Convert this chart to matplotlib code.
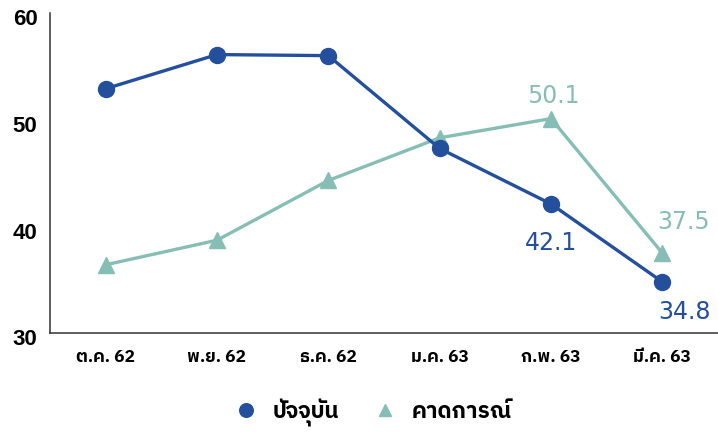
import matplotlib
matplotlib.use("Agg")
import matplotlib.pyplot as plt
import matplotlib.transforms as mtransforms
from matplotlib import font_manager
from matplotlib.ft2font import FT2Font

months = ["ต.ค. 62", "พ.ย. 62", "ธ.ค. 62", "ม.ค. 63", "ก.พ. 63", "มี.ค. 63"]
current = [52.9, 56.1, 56.0, 47.3, 42.1, 34.8]
expected = [36.4, 38.7, 44.3, 48.3, 50.1, 37.5]
series_names = ["ปัจจุบัน", "คาดการณ์"]

BLUE = "#234F9C"
TEAL = "#86BEB6"


def find_thai_family():
    # installed fonts with Thai glyphs; prefer a family that has a bold face
    fams = {}
    for f in font_manager.fontManager.ttflist:
        try:
            cmap = FT2Font(f.fname).get_charmap()
        except Exception:
            continue
        if ord("ก") in cmap and ord("ั") in cmap:
            w = f.weight if isinstance(f.weight, int) else 400
            fams.setdefault(f.name, set()).add(w)
    if not fams:
        return None
    ranked = sorted(fams, key=lambda n: (max(fams[n]) < 700, "sans" not in n.lower(), n))
    return ranked[0]


thai = find_thai_family()
families = [thai, "DejaVu Sans"] if thai else ["DejaVu Sans"]
plt.rcParams["font.family"] = families

fig = plt.figure(figsize=(7.18, 4.32), dpi=100)
ax = fig.add_axes([0.0696, 0.229, 0.9304, 0.741])

x = list(range(len(months)))
ax.plot(x, current, color=BLUE, lw=2.4, marker="o", ms=11.5, label=series_names[0], zorder=3)
ax.plot(x, expected, color=TEAL, lw=2.4, marker="^", ms=11, label=series_names[1], zorder=2)

ax.set_xlim(-0.5, 5.5)
ax.set_ylim(30, 60)
ax.set_yticks([30, 40, 50, 60])
ax.set_xticks(x)
ax.set_xticklabels(months, fontsize=12.5, fontweight="bold")
ax.set_yticklabels(["30", "40", "50", "60"], fontsize=16, fontweight="bold",
                   family=["Liberation Sans", "DejaVu Sans"])
ax.tick_params(axis="both", length=0)
ax.tick_params(axis="x", pad=12)
ax.tick_params(axis="y", pad=9)
shift = mtransforms.ScaledTranslation(0, -3 / 72, fig.dpi_scale_trans)
for t in ax.get_yticklabels():
    t.set_transform(t.get_transform() + shift)
for s in ["top", "right"]:
    ax.spines[s].set_visible(False)
for s in ["left", "bottom"]:
    ax.spines[s].set_color("#333333")
    ax.spines[s].set_linewidth(1.1)

lab = dict(fontsize=17, ha="center", va="center", textcoords="offset points",
           family=["DejaVu Sans"], annotation_clip=False)
ax.annotate(f"{expected[4]}", (4, expected[4]), xytext=(2, 16), color=TEAL, **lab)
ax.annotate(f"{expected[5]}", (5, expected[5]), xytext=(15, 22), color=TEAL, **lab)
ax.annotate(f"{current[4]}", (4, current[4]), xytext=(0, -28), color=BLUE, **lab)
ax.annotate(f"{current[5]}", (5, current[5]), xytext=(16, -22), color=BLUE, **lab)

leg = fig.legend(loc="center", bbox_to_anchor=(0.52, 0.045), ncol=2, frameon=False,
                 prop={"size": 16, "weight": "bold"}, handlelength=1.0,
                 columnspacing=1.6, handletextpad=0.7, markerscale=0.85)
for h in leg.legend_handles:
    h.set_linestyle("none")

fig.savefig("out.png", dpi=100)
